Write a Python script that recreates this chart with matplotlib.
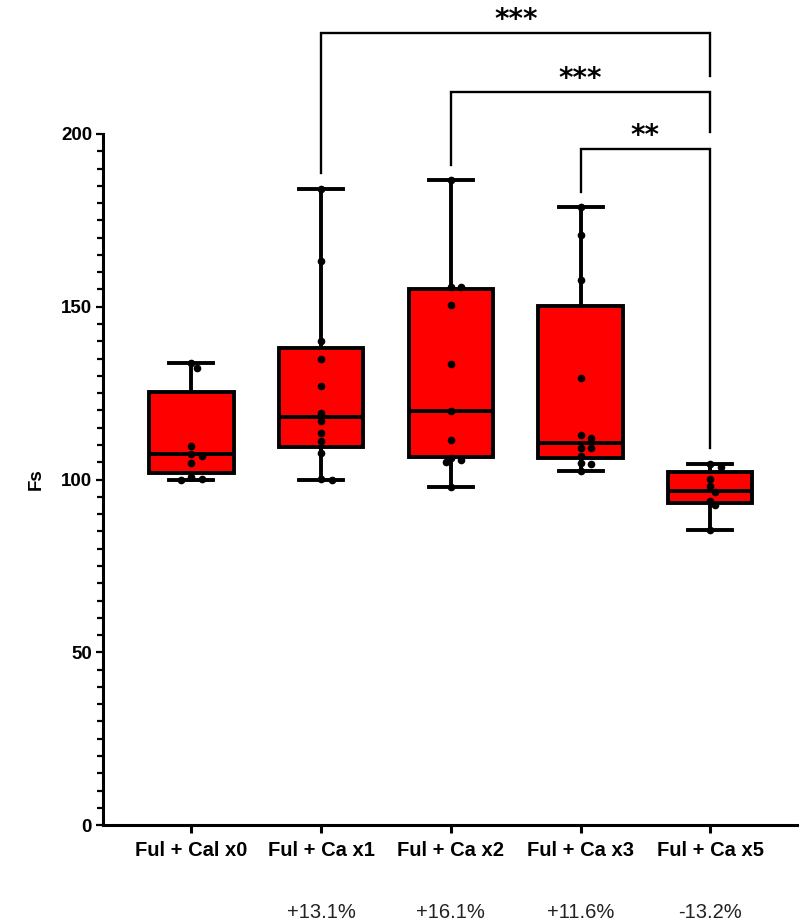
import matplotlib
matplotlib.use("Agg")
import matplotlib.pyplot as plt
from matplotlib.ticker import MultipleLocator
import numpy as np

# ---------------- data ----------------
categories = ["Ful + Cal x0", "Ful + Ca x1", "Ful + Ca x2", "Ful + Ca x3", "Ful + Ca x5"]
pct_labels = ["", "+13.1%", "+16.1%", "+11.6%", "-13.2%"]

g0 = [133.6, 132.2, 109.7, 107.5, 106.8, 104.7, 100.6, 100.3, 100.0]
g1 = [184.2, 163.2, 140.1, 134.8, 127.1, 119.4, 117.0, 113.6, 111.1, 107.6, 100.3, 100.0]
g2 = [186.7, 155.8, 155.6, 150.5, 133.3, 119.9, 111.4, 106.2, 105.6, 105.0, 97.9]
g3 = [179.0, 170.8, 157.7, 129.5, 112.9, 111.9, 109.2, 109.1, 106.8, 104.7, 104.6, 102.5]
g4 = [104.4, 103.7, 100.3, 98.2, 96.5, 93.9, 92.6, 85.4]
groups = [g0, g1, g2, g3, g4]

q1s = [101.8, 109.3, 106.4, 106.1, 93.3]
medians = [107.3, 118.2, 119.9, 110.5, 96.7]
q3s = [125.4, 138.0, 155.1, 150.2, 102.2]

# significance brackets: (left group, right group, label)
brk_left = [1, 2, 3]
brk_right = [4, 4, 4]
brk_labels = ["***", "***", "**"]
brk_top = [229.1, 212.2, 195.7]
brk_left_bottom = [188.6, 191.0, 183.1]
brk_right_bottom = [216.8, 200.5, 109.0]

# ---------------- figure ----------------
fig = plt.figure(figsize=(8, 9.24), dpi=100)
ax = fig.add_axes([0.129, 0.107, 0.8675, 0.748])

positions = np.arange(len(categories))
stats = []
for i, g in enumerate(groups):
    stats.append(dict(med=medians[i], q1=q1s[i], q3=q3s[i],
                      whislo=min(g), whishi=max(g), fliers=[], label=categories[i]))

lw = 2.8
ax.bxp(stats, positions=positions, widths=0.65, patch_artist=True, showfliers=False,
       boxprops=dict(facecolor="#FF0000", edgecolor="black", linewidth=lw),
       medianprops=dict(color="black", linewidth=lw),
       whiskerprops=dict(color="black", linewidth=lw),
       capprops=dict(color="black", linewidth=lw),
       capwidths=0.34, zorder=2)

# simple beeswarm placement in pixel space
px_per_x = 129.75
px_per_y = 3.455
diam = 6.5
for i, g in enumerate(groups):
    placed = []
    xs = []
    for v in g:
        cands = [0]
        for n in range(1, 6):
            cands += [n, -n]
        for c in cands:
            off = c * diam * 0.8
            ok = True
            for (po, pv) in placed:
                if np.hypot(off - po, (v - pv) * px_per_y) < diam:
                    ok = False
                    break
            if ok:
                placed.append((off, v))
                xs.append(i + off / px_per_x)
                break
    ax.plot(xs, g, "o", color="black", markersize=4.5, zorder=3, linestyle="none")

ax.set_ylim(0, 200)
ax.set_xlim(-0.68, 4.67)

for s in ["top", "right"]:
    ax.spines[s].set_visible(False)
ax.spines["left"].set_linewidth(2.2)
ax.spines["bottom"].set_linewidth(2.2)

ax.yaxis.set_major_locator(MultipleLocator(50))
ax.yaxis.set_minor_locator(MultipleLocator(5))
ax.tick_params(axis="y", which="major", length=5, width=1.6, pad=3)
ax.tick_params(axis="y", which="minor", length=4, width=1.6)
ax.tick_params(axis="x", which="major", length=5.5, width=2.2, pad=6)

ax.set_xticks(positions)
ax.set_xticklabels(categories, fontsize=14.5, fontweight="bold", family="Liberation Sans")
for lab in ax.get_yticklabels():
    lab.set_fontsize(13.5)
    lab.set_fontweight("bold")
    lab.set_family("Liberation Sans")

ax.set_ylabel("Fs", fontsize=13.5, fontweight="bold", family="Liberation Sans", labelpad=12)

# percentage labels under the tick labels
for i, t in enumerate(pct_labels):
    if t:
        ax.text(i, -25.3, t, ha="center", va="center", fontsize=14.5,
                family="Liberation Sans", color="#222222", clip_on=False)

# significance brackets
for l, r, lab, top, lb, rb in zip(brk_left, brk_right, brk_labels, brk_top,
                                  brk_left_bottom, brk_right_bottom):
    ax.plot([l, l, r, r], [lb, top, top, rb], color="black", linewidth=1.7,
            clip_on=False, zorder=4, solid_joinstyle="miter")
    ax.text((l + r) / 2, top - 0.2, lab, ha="center", va="bottom", fontsize=20,
            fontweight="bold", family="DejaVu Sans", clip_on=False)

fig.savefig("out.png", dpi=100)
